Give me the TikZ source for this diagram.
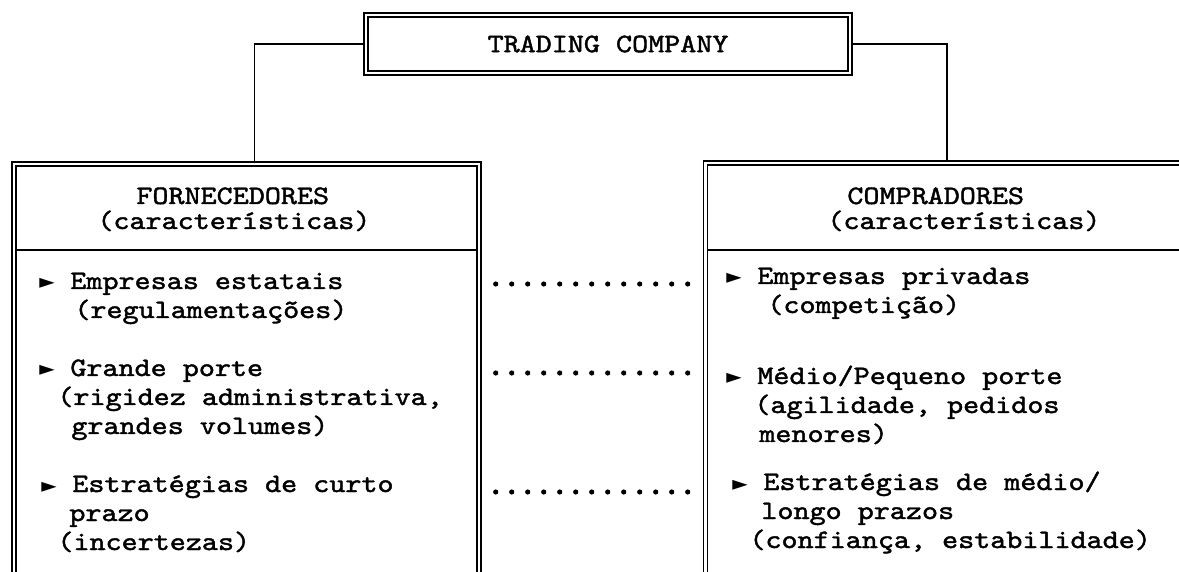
\documentclass[tikz,border=0pt]{standalone}
\usepackage{fontspec}
\newfontfamily\mono{lmmono10-regular.otf}[FakeStretch=1.15, FakeBold=1.6]
\newfontfamily\sym{DejaVu Sans}
\newcommand{\tri}{\makebox[15.5pt][l]{\sym\fontsize{10pt}{10pt}\selectfont ►}}
\usetikzlibrary{fit,calc}
\tikzset{
  dblbox/.style={draw, line width=0.7pt, double, double distance=1.2pt, inner sep=0pt},
  link/.style={line width=0.75pt},
  sepline/.style={line width=0.75pt},
  dotrow/.style={line width=2.6pt, line cap=round, dash pattern=on 0pt off 8pt},
  headtxt/.style={anchor=base west, inner sep=0pt, align=left,
    font=\mono\fontsize{13.3pt}{12.5pt}\selectfont},
  itemtxt/.style={anchor=base west, inner sep=0pt, align=left,
    font=\mono\fontsize{13.3pt}{14.5pt}\selectfont},
}
\begin{document}
\begin{tikzpicture}[x=0.5pt,y=-0.5pt]
  \useasboundingbox (0,0) rectangle (1179,572);
  \clip (0,0) rectangle (1179,572);
  % top box
  \node[dblbox, minimum width=242pt, minimum height=29pt,
    font=\mono\fontsize{13.3pt}{16pt}\selectfont] (trading) at (608,44) {TRADING COMPANY};
  % the two open boxes
  \node[dblbox, fit={(14,164) (479,700)}] (forn) {};
  \node[dblbox, fit={(705.5,163) (1188.5,700)}] (comp) {};
  \draw[sepline] ([xshift=1.3pt]forn.west |- 0,250) -- ([xshift=-1.3pt]forn.east |- 0,250);
  \draw[sepline] ([xshift=1.3pt]comp.west |- 0,250) -- (comp.east |- 0,250);
  % links to the top box
  \draw[link] (trading.west) -| ([xshift=4pt]forn.north);
  \draw[link] (trading.east) -| (comp.north);
  % headers (base = last line)
  \node[headtxt] (fornhead) at (97,229) {\hspace*{19.5pt}FORNECEDORES\\(características)};
  \node[headtxt] (comphead) at (827,229) {\hspace*{10pt}COMPRADORES\\(características)};
  % suppliers
  \node[itemtxt] (f1) at (39,318) {\tri Empresas estatais\\\hspace*{17.5pt}(regulamentações)};
  \node[itemtxt] (f2) at (39,434) {\tri Grande porte\\\hspace*{9pt}(rigidez administrativa,\\\hspace*{16pt}grandes volumes)};
  \node[itemtxt] (f3) at (41,550) {\tri Estratégias de curto\\\hspace*{14pt}prazo\\\hspace*{8pt}(incertezas)};
  % buyers
  \node[itemtxt] (c1) at (726,313) {\tri Empresas privadas\\\hspace*{20.5pt}(competição)};
  \node[itemtxt] (c2) at (726,442) {\tri Médio/Pequeno porte\\\hspace*{14pt}(agilidade, pedidos\\\hspace*{16.5pt}menores)};
  \node[itemtxt] (c3) at (732,548) {\tri Estratégias de médio/\\\hspace*{14.5pt}longo prazos\\\hspace*{8.5pt}(confiança, estabilidade)};
  % dotted rows
  \draw[dotrow] ($(forn.east |- 0,284)+(16,0)$) -- ($(comp.west |- 0,284)+(-16.5,0)$);
  \draw[dotrow] ($(forn.east |- 0,373)+(16,0)$) -- ($(comp.west |- 0,373)+(-16.5,0)$);
  \draw[dotrow] ($(forn.east |- 0,492)+(16,0)$) -- ($(comp.west |- 0,492)+(-16.5,0)$);
\end{tikzpicture}
\end{document}
